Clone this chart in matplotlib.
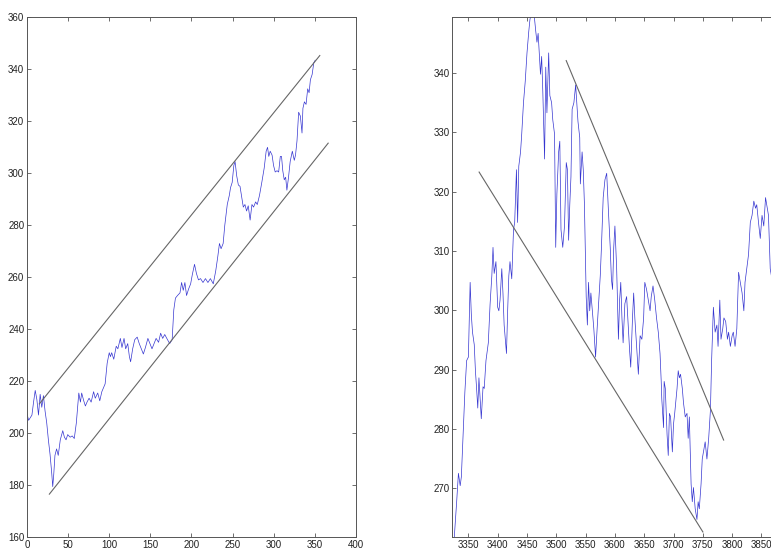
import matplotlib.pyplot as plt

plt.rcParams['font.family'] = ['Liberation Sans', 'DejaVu Sans']

# left panel: price series and channel
left_x = [0, 2, 4, 6, 8, 10, 12, 14, 16, 18, 20, 22, 24, 26, 28, 30, 31.3, 32.5, 34, 36, 38,
          40.5, 43.5, 45.5, 47.5, 49.5, 52.5, 55, 57.5, 60, 62, 63, 65, 66.5, 69, 71, 73, 75.5,
          78, 81, 83, 86, 88.5, 91, 93, 95, 97.5, 100, 101.5, 103, 105.5, 108.5, 110.5, 113.5,
          115.5, 118, 120, 122.5, 124.5, 126, 128.5, 131, 134, 136.5, 139, 141.5, 144, 147,
          149.5, 152, 154.5, 157, 160, 162.5, 165, 167.5, 170, 173.5, 176.5, 178.5, 180.5, 183,
          186, 188, 190, 192, 194, 196.5, 199, 201, 203.7, 206, 208.5, 211, 214, 217, 220, 223,
          226.5, 229.5, 232, 234, 236, 238.5, 240.5, 243.5, 246, 247.5, 249.5, 251.5, 253, 255,
          257, 259, 261, 263, 265, 267, 269, 271.3, 273.5, 275.5, 278, 280, 282.7, 285.5, 288.4,
          290.8, 292.5, 294, 295.7, 298, 299.8, 301.8, 304, 306, 308, 309.5, 311, 312.8, 314.5,
          316, 318, 320, 322.6, 325, 326.5, 328.3, 330.3, 332.4, 334.4, 335.5, 337.3, 339.3,
          341.3, 343, 344.6, 346.7, 348.7, 350.5]
left_y = [207.5, 205, 206, 207, 212, 216.5, 213, 207, 215, 210, 214.5, 208.5, 204, 197.5, 192,
          185, 179.5, 184, 191.5, 194, 191.5, 197.5, 201, 198.5, 197.5, 199.5, 198.5, 199, 198,
          204, 212, 215.5, 212, 215.5, 212.5, 210.5, 212, 213.5, 212, 216, 213.5, 215.5, 212.5,
          216, 217.5, 219, 227, 231, 229.5, 231, 228.5, 233.5, 232.5, 236.5, 233, 236.5, 232.5,
          234.5, 229.5, 227.5, 232.5, 236, 237, 234.5, 232.5, 230.5, 233, 236.5, 234.5, 232.5,
          234.5, 236.5, 235, 238.5, 236.5, 238, 236.5, 234.5, 236, 247.5, 252, 253, 254, 258,
          255, 258, 253, 255.5, 257.5, 261, 265, 261.5, 259, 259.5, 258, 259.5, 258, 259.5,
          257.5, 262.5, 268, 273, 271, 273, 280, 288, 291.5, 294.5, 296.5, 303, 304.5, 299,
          295.5, 295, 291, 287, 288, 285.5, 287.5, 282, 288, 287, 289, 288, 291.5, 296.5, 302,
          308.5, 310, 306.5, 308.5, 307, 303, 300.5, 301, 300.5, 306.5, 306.5, 301, 297.5,
          298.5, 293.5, 298.5, 304.5, 308.5, 305, 307, 312.5, 323.5, 322, 315.5, 325, 327.5,
          326.5, 332.5, 331, 336, 338, 342.5, 343.5]
left_upper_x = [15, 356]
left_upper_y = [211.3, 345.3]
left_lower_x = [27.2, 366.2]
left_lower_y = [176.6, 311.6]

# right panel: price series and two trend lines
right_x = [3326, 3330, 3333, 3336, 3338, 3341, 3344, 3347, 3350, 3353, 3355, 3357, 3360, 3362,
           3364, 3366, 3368, 3370, 3372, 3375, 3377, 3380, 3384, 3387, 3390, 3392, 3394, 3397,
           3400, 3402, 3404, 3407, 3409, 3411, 3413, 3415, 3417, 3419, 3421, 3424, 3427, 3429,
           3432, 3434, 3436, 3439, 3441, 3444, 3447, 3450, 3453, 3455, 3459, 3462, 3465, 3467,
           3469, 3473, 3475, 3477, 3480, 3482, 3484, 3487, 3489, 3492, 3494, 3497, 3499, 3501,
           3504, 3506, 3508, 3511, 3514, 3517, 3519, 3521, 3523, 3525, 3527, 3530, 3533, 3536,
           3537, 3540, 3541, 3544, 3546, 3548, 3551, 3553, 3555, 3557, 3559, 3561, 3564, 3567,
           3570, 3573, 3575, 3577, 3580, 3583, 3586, 3589, 3592, 3594, 3596, 3598, 3600, 3603,
           3606, 3608, 3610, 3612, 3614, 3617, 3620, 3622, 3625, 3627, 3630, 3632, 3634, 3637,
           3640, 3643, 3646, 3649, 3651, 3654, 3657, 3660, 3662, 3665, 3668, 3671, 3674, 3677,
           3679, 3680, 3683, 3684, 3686, 3689, 3691, 3693, 3695, 3698, 3700, 3702, 3706, 3708,
           3710, 3712, 3715, 3717, 3720, 3723, 3725, 3727, 3730, 3732, 3734, 3737, 3740, 3742,
           3744, 3747, 3749, 3751, 3754, 3757, 3760, 3763, 3765, 3768, 3771, 3774, 3776, 3779,
           3781, 3784, 3786, 3789, 3792, 3794, 3797, 3800, 3802, 3805, 3808, 3811, 3814, 3817,
           3820, 3822, 3825, 3828, 3831, 3834, 3837, 3840, 3842, 3845, 3848, 3851, 3854, 3857,
           3860, 3862, 3865, 3867]
right_y = [261.8, 267.7, 272.5, 270.4, 271.9, 279, 286.2, 291.5, 292.1, 304.7, 299.3, 296.3,
           294.2, 289.8, 286.8, 283.5, 288.6, 285, 281.7, 287.1, 286.8, 291.5, 294.5, 301,
           305.8, 310.6, 306.2, 308.2, 300.5, 299.9, 301.7, 307, 302.9, 297.5, 295.1, 292.7,
           299.9, 305.8, 308.2, 305.3, 313.6, 314.8, 323.7, 314.8, 324.3, 326.7, 329.7, 335,
           338.6, 343.4, 347, 349, 351, 350, 347, 345.2, 346.7, 339.8, 342.8, 336.8, 325.5, 341,
           333.3, 343.4, 336.2, 335, 332.1, 329.7, 310.6, 319.6, 326.7, 328.5, 313.6, 310.6,
           314.2, 324.9, 323.7, 311.8, 317.8, 322.5, 333.9, 335, 338, 333.3, 331.8, 329.1,
           321.3, 326.7, 323.7, 317.8, 302.3, 297.5, 304.7, 299.9, 302.9, 300.5, 296.9, 292.1,
           297.5, 302.3, 305.8, 310.6, 319, 322, 323.1, 316.6, 310.6, 305.3, 303.5, 310.6,
           314.2, 307, 295.1, 301.7, 304.7, 298.7, 294.5, 301.1, 302.3, 298.7, 293.3, 290.4,
           298.7, 302.9, 298.7, 293.9, 289.2, 295.7, 295.1, 298.7, 304.7, 303.5, 301.7, 299.9,
           302.3, 304.1, 301.7, 298.7, 296.3, 292.7, 288, 285, 280.2, 288, 286.8, 279, 275.5,
           282.6, 282, 276.1, 280.8, 282.6, 286.8, 289.8, 288.6, 289.2, 286.8, 284.4, 282,
           282.6, 278.4, 282, 270.7, 267.7, 270.1, 266.5, 264.7, 267.7, 266.5, 270.7, 274.9,
           276.1, 277.8, 274.9, 278.4, 283.2, 291.5, 300.5, 296.3, 297.5, 293.9, 301.7, 295.1,
           296.9, 298.7, 298.1, 295.1, 296.3, 293.9, 295.7, 296.3, 293.9, 296.9, 306.4, 304.7,
           302.9, 299.9, 304.7, 307, 309.4, 314.8, 316, 318.4, 317.2, 317.8, 314.8, 312.1, 316,
           314.2, 319, 317.2, 316, 307, 305.8]
right_lower_x = [3368.3, 3750.1]
right_lower_y = [323.3, 262.6]
right_upper_x = [3516.9, 3785.5]
right_upper_y = [342.1, 278.1]

fig = plt.figure(figsize=(7.71, 5.55), dpi=100)
ax1 = fig.add_axes([0.035, 0.0319, 0.4267, 0.9369])
ax2 = fig.add_axes([0.5866, 0.0319, 0.4314, 0.9369])

blue = '#3535d0'
grey = '#666666'

ax1.plot(left_x, left_y, color=blue, lw=0.5)
ax1.plot(left_upper_x, left_upper_y, color=grey, lw=0.8)
ax1.plot(left_lower_x, left_lower_y, color=grey, lw=0.8)
ax1.set_xlim(0, 400)
ax1.set_ylim(160, 360)
ax1.set_xticks(range(0, 401, 50))
ax1.set_yticks(range(160, 361, 20))

ax2.plot(right_x, right_y, color=blue, lw=0.5)
ax2.plot(right_lower_x, right_lower_y, color=grey, lw=0.8)
ax2.plot(right_upper_x, right_upper_y, color=grey, lw=0.8)
ax2.set_xlim(3322.5, 3890)
ax2.set_ylim(261.7, 349.4)
ax2.set_xticks(range(3350, 3851, 50))
ax2.set_yticks(range(270, 341, 10))

for ax in (ax1, ax2):
    ax.tick_params(direction='in', length=3, width=0.6, color='#555555',
                   labelsize=7, labelcolor='#222222', top=True, right=True, pad=2)
    for s in ax.spines.values():
        s.set_color('#555555')
        s.set_linewidth(0.7)

fig.savefig('out.png', dpi=100)
